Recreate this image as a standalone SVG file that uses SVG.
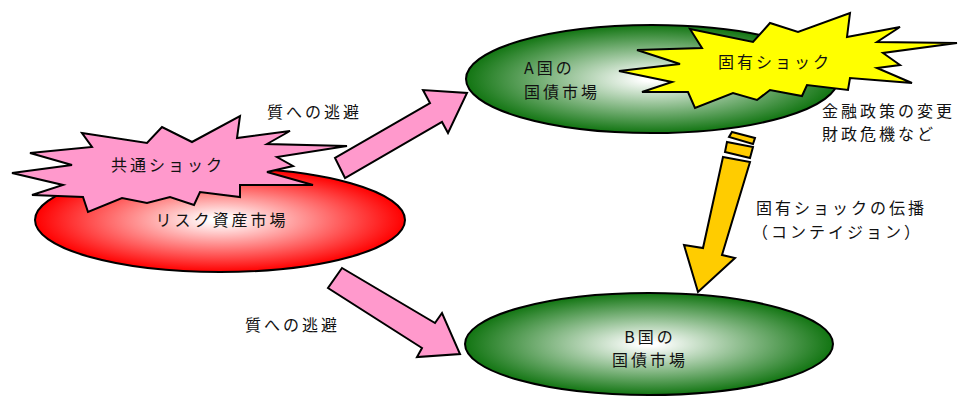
<svg xmlns="http://www.w3.org/2000/svg" width="959" height="396" viewBox="0 0 959 396">
<defs>
<radialGradient id="gRed" cx="0.5" cy="0.5" r="0.5">
<stop offset="0.05" stop-color="#ffffff"/>
<stop offset="1" stop-color="#ff0000"/>
</radialGradient>
<radialGradient id="gGreen" cx="0.5" cy="0.5" r="0.5">
<stop offset="0.05" stop-color="#ffffff"/>
<stop offset="1" stop-color="#127512"/>
</radialGradient>
<style>
.t{font-family:"Noto Sans CJK JP","Noto Sans",sans-serif;font-size:16px;fill:#111;letter-spacing:3px}
.c{text-anchor:middle}
.ol{stroke:#000;stroke-width:2;stroke-linejoin:miter}
</style>
</defs>
<rect width="959" height="396" fill="#ffffff"/>
<g id="risk">
<ellipse cx="220" cy="220" rx="185" ry="52" fill="url(#gRed)" class="ol"/>
<text class="t c" x="222" y="226">リスク資産市場</text>
</g>
<g id="common-shock">
<polygon class="ol" fill="#ff99cc" points="82,133 147,143 162,127 192,142 240,116 237,138 290,131 267,144 347,146 277,157 293,166 267,172 313,185 240,185 240,197 200,192 194,205 170,197 147,203 122,198 88,212 83,197 32,195 63,185 12,173 72,165 30,153 92,147"/>
<text class="t c" x="168" y="171">共通ショック</text>
</g>
<g id="marketA">
<ellipse cx="652" cy="79" rx="186" ry="54" fill="url(#gGreen)" class="ol"/>
<text class="t" x="524" y="74">A国の</text>
<text class="t" x="524" y="98">国債市場</text>
</g>
<g id="own-shock">
<polygon class="ol" fill="#ffff00" points="690,29 753,42 770,23 798,32 850,13 847,37 900,27 877,42 957,43 883,53 900,65 877,68 912,83 850,78 848,90 807,85 802,96 770,90 757,100 733,93 695,108 688,92 642,92 672,82 619,71 680,64 637,50 702,48"/>
<text class="t c" x="775" y="68">固有ショック</text>
</g>
<g id="marketB">
<ellipse cx="649" cy="344" rx="184" ry="51" fill="url(#gGreen)" class="ol"/>
<text class="t c" x="650" y="343">B国の</text>
<text class="t c" x="650" y="366">国債市場</text>
</g>
<g id="connectors">
<polygon class="ol" fill="#ff99cc" points="345,178 335,158 430,103 423,90 467,93 448,133 442,122"/>
<polygon class="ol" fill="#ff99cc" points="342,268 328,288 422,348 417,357 460,354 442,313 435,323"/>
<polygon class="ol" fill="#ffcc00" points="732,132 755,138 753,144 729,137"/>
<polygon class="ol" fill="#ffcc00" points="727,142 753,147 750,158 725,152"/>
<polygon class="ol" fill="#ffcc00" points="723,157 750,162 722,255 735,258 698,292 684,245 703,248"/>
</g>
<g id="labels">
<text class="t" x="267" y="118">質への逃避</text>
<text class="t" x="245" y="331">質への逃避</text>
<text class="t" x="822" y="117">金融政策の変更</text>
<text class="t" x="822" y="140">財政危機など</text>
<text class="t" x="756" y="214">固有ショックの伝播</text>
<text class="t" x="752" y="238">（コンテイジョン）</text>
</g>
</svg>
